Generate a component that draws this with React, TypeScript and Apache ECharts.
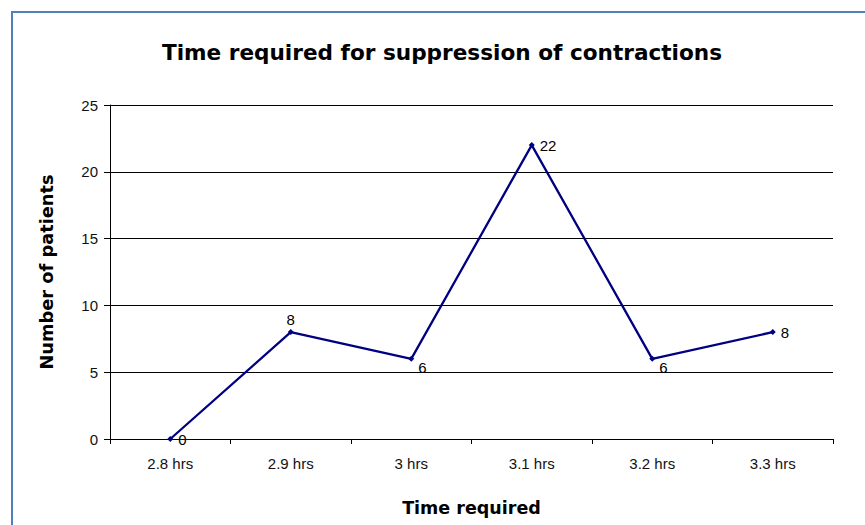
import React, { useEffect, useRef } from "react";
import * as echarts from "echarts";

const categories = ["2.8 hrs", "2.9 hrs", "3 hrs", "3.1 hrs", "3.2 hrs", "3.3 hrs"];
const patients = [0, 8, 6, 22, 6, 8];
const labelPlacement = ["right", "top", "lowright", "right", "lowright", "right"];

const FONT = "'Liberation Sans', Arial, sans-serif";
const BOLD_FONT = "'DejaVu Sans', Verdana, sans-serif";

export default function App() {
  const ref = useRef<HTMLDivElement>(null);
  useEffect(() => {
    if (!ref.current) return;
    const chart = echarts.init(ref.current, null, { renderer: "svg" });
    const data = patients.map((v, i) => {
      const p = labelPlacement[i];
      let label: any;
      if (p === "top") label = { position: "top", distance: 2 };
      else if (p === "lowright") label = { position: "right", distance: 4, offset: [0, 9] };
      else label = { position: "right", distance: 5 };
      return { value: v, label };
    });
    chart.setOption({
      animation: false,
      backgroundColor: "#ffffff",
      title: {
        text: "Time required for suppression of contractions",
        left: 437,
        textAlign: "center",
        top: 36,
        textStyle: { fontFamily: BOLD_FONT, fontSize: 21.6, fontWeight: "bold", color: "#000" },
      },
      graphic: [
        {
          type: "rect",
          shape: { x: 12, y: 12, width: 900, height: 600 },
          style: { fill: "none", stroke: "#4f81bd", lineWidth: 2 },
          silent: true,
        },
      ],
      grid: { left: 110, right: 32, top: 105, bottom: 86 },
      xAxis: {
        type: "category",
        data: categories,
        boundaryGap: true,
        name: "Time required",
        nameLocation: "middle",
        nameGap: 60,
        nameTextStyle: { fontFamily: BOLD_FONT, fontSize: 17.5, fontWeight: "bold", color: "#000" },
        axisLine: { lineStyle: { color: "#000", width: 1 } },
        axisTick: { show: true, length: 5, alignWithLabel: false, lineStyle: { color: "#000" } },
        axisLabel: { fontFamily: FONT, fontSize: 15, color: "#111", margin: 17 },
        splitLine: { show: false },
      },
      yAxis: {
        type: "value",
        min: 0,
        max: 25,
        interval: 5,
        name: "Number of patients",
        nameLocation: "middle",
        nameGap: 55,
        nameTextStyle: { fontFamily: BOLD_FONT, fontSize: 17.8, fontWeight: "bold", color: "#000" },
        axisLine: { show: true, lineStyle: { color: "#000", width: 1 } },
        axisTick: { show: true, length: 6, lineStyle: { color: "#000" } },
        axisLabel: { fontFamily: FONT, fontSize: 15, color: "#111", margin: 12 },
        splitLine: { show: true, lineStyle: { color: "#000", width: 1 } },
      },
      series: [
        {
          type: "line",
          data,
          symbol: "diamond",
          symbolSize: 6,
          lineStyle: { color: "#000080", width: 2.3 },
          itemStyle: { color: "#000080" },
          label: { show: true, fontFamily: FONT, fontSize: 15, color: "#000" },
        },
      ],
    });
    return () => chart.dispose();
  }, []);
  return (
    <div
      ref={ref}
      style={{ position: "absolute", left: 0, top: 0, width: 865, height: 525 }}
    />
  );
}
